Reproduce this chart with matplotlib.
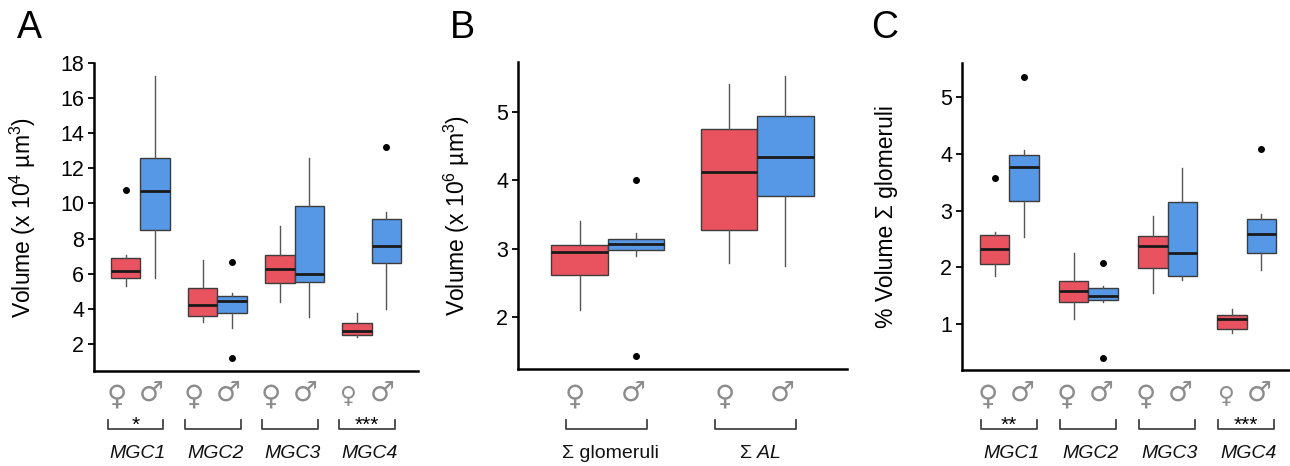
import matplotlib
matplotlib.use("Agg")
import matplotlib.pyplot as plt
from matplotlib.transforms import blended_transform_factory

plt.rcParams['font.family'] = ['Liberation Sans', 'DejaVu Sans']
plt.rcParams['mathtext.fontset'] = 'custom'
plt.rcParams['mathtext.rm'] = 'Liberation Sans'
plt.rcParams['mathtext.it'] = 'Liberation Sans:italic'

# ---------------- data (box stats: whislo, q1, med, q3, whishi, outliers) ---------------
groups_A = ["MGC1", "MGC2", "MGC3", "MGC4"]
female_A = [[5.3, 5.78, 6.18, 6.88, 7.07], [3.27, 3.59, 4.22, 5.17, 6.78],
            [4.37, 5.49, 6.25, 7.05, 8.74], [2.37, 2.51, 2.73, 3.17, 3.78]]
female_A_out = [[10.76], [], [], []]
male_A = [[5.78, 8.49, 10.72, 12.58, 17.24], [2.89, 3.74, 4.45, 4.73, 4.88],
          [3.51, 5.51, 5.97, 9.88, 12.58], [3.97, 6.59, 7.58, 9.12, 9.52]]
male_A_out = [[], [6.69, 1.21], [], [13.19]]
stars_A = ["*", "", "", "***"]

groups_B = ["Σ glomeruli", "Σ $\\mathit{AL}$"]
female_B = [[2.10, 2.61, 2.95, 3.05, 3.40], [2.78, 3.27, 4.13, 4.75, 5.42]]
female_B_out = [[], []]
male_B = [[2.89, 2.98, 3.07, 3.14, 3.23], [2.75, 3.77, 4.35, 4.95, 5.54]]
male_B_out = [[4.0, 1.42], []]

groups_C = ["MGC1", "MGC2", "MGC3", "MGC4"]
female_C = [[1.85, 2.05, 2.32, 2.57, 2.63], [1.08, 1.39, 1.58, 1.76, 2.25],
            [1.55, 1.98, 2.38, 2.55, 2.91], [0.84, 0.91, 1.09, 1.16, 1.26]]
female_C_out = [[3.57], [], [], []]
male_C = [[2.54, 3.16, 3.76, 3.97, 4.07], [1.39, 1.42, 1.50, 1.64, 1.67],
          [1.78, 1.84, 2.26, 3.15, 3.75], [1.96, 2.26, 2.58, 2.85, 2.94]]
male_C_out = [[5.35], [2.07, 0.41], [], [4.09]]
stars_C = ["**", "", "", "***"]

RED = "#E9525F"
BLUE = "#5697E6"
W, H = 1290, 466

fig = plt.figure(figsize=(W / 100, H / 100), dpi=100)


def px_axes(l, r, t, b):
    return fig.add_axes([l / W, (H - b) / H, (r - l) / W, (b - t) / H])


def stats(vals, outs):
    return dict(whislo=vals[0], q1=vals[1], med=vals[2], q3=vals[3], whishi=vals[4], fliers=outs)


def draw_panel(ax, fem, fem_o, mal, mal_o, bw):
    n = len(fem)
    centers = list(range(1, n + 1))
    for data, outs, off, col in [(fem, fem_o, -bw / 2, RED), (mal, mal_o, bw / 2, BLUE)]:
        st = [stats(v, o) for v, o in zip(data, outs)]
        ax.bxp(st, positions=[c + off for c in centers], widths=bw, showcaps=False,
               patch_artist=True, manage_ticks=False,
               boxprops=dict(facecolor=col, edgecolor="#3c3c3c", linewidth=1.0),
               medianprops=dict(color="#1a1a1a", linewidth=2.0),
               whiskerprops=dict(color="#555555", linewidth=1.0),
               flierprops=dict(marker="o", markerfacecolor="black", markeredgecolor="black",
                               markersize=4))
    for s in ["top", "right"]:
        ax.spines[s].set_visible(False)
    for s in ["left", "bottom"]:
        ax.spines[s].set_linewidth(1.8)
        ax.spines[s].set_color("black")
    ax.set_xticks([])
    ax.tick_params(axis="y", labelsize=15.5, length=4, width=1.3, pad=3, colors="black")
    return centers


def annotate(ax, centers, labels, stars, fo, mo, bl, br, sym_small):
    tr = blended_transform_factory(ax.transData, fig.transFigure)
    yf = lambda p: 1 - p / H
    for i, c in enumerate(centers):
        fs = 20
        if sym_small and i == len(centers) - 1:
            fs = 16.5
        ax.text(c + fo, yf(396), "♀", transform=tr, ha="center", va="center", fontsize=fs,
                color="#8c8c8c", family="DejaVu Sans")
        ax.text(c + mo, yf(393), "♂", transform=tr, ha="center", va="center", fontsize=20,
                color="#8c8c8c", family="DejaVu Sans")
        ax.plot([c + bl, c + bl, c + br, c + br], [yf(420), yf(429), yf(429), yf(420)],
                transform=tr, color="#444444", lw=1.3, clip_on=False)
        if stars and stars[i]:
            ax.text(c + (bl + br) / 2, yf(425), stars[i], transform=tr, ha="center",
                    va="center", fontsize=15, color="black")
        ax.text(c + (bl + br) / 2 + 0.03, yf(453), labels[i], transform=tr, ha="center",
                va="center", fontsize=14, style="italic" if labels[i].startswith("MGC") else "normal",
                color="#111111")


# Panel A
axA = px_axes(94, 418, 63, 371)
cA = draw_panel(axA, female_A, female_A_out, male_A, male_A_out, 0.38)
axA.set_xlim(0.4, 4.6)
axA.set_ylim(0.46, 18.0)
axA.set_yticks([2, 4, 6, 8, 10, 12, 14, 16, 18])
axA.set_ylabel("Volume (x 10$^4$ µm$^3$)", fontsize=16.5)
axA.yaxis.set_label_coords(-0.172, 0.5)
annotate(axA, cA, groups_A, stars_A, -0.31, 0.14, -0.42, 0.30, True)

# Panel B
axB = px_axes(518, 847, 62, 369)
cB = draw_panel(axB, female_B, female_B_out, male_B, male_B_out, 0.377)
axB.set_xlim(0.4, 2.6)
axB.set_ylim(1.23, 5.74)
axB.set_yticks([2, 3, 4, 5])
axB.set_ylabel("Volume (x 10$^6$ µm$^3$)", fontsize=16.5)
axB.yaxis.set_label_coords(-0.14, 0.5)
annotate(axB, cB, groups_B, None, -0.22, 0.17, -0.28, 0.26, False)

# Panel C
axC = px_axes(962, 1294, 63, 370)
cC = draw_panel(axC, female_C, female_C_out, male_C, male_C_out, 0.375)
axC.set_xlim(0.4, 4.6)
axC.set_ylim(0.19, 5.6)
axC.set_yticks([1, 2, 3, 4, 5])
axC.set_ylabel("% Volume Σ glomeruli", fontsize=16.5)
axC.yaxis.set_label_coords(-0.193, 0.5)
annotate(axC, cC, groups_C, stars_C, -0.27, 0.16, -0.36, 0.35, True)

for lab, x in [("A", 29), ("B", 462), ("C", 885)]:
    fig.text(x / W, 1 - 28 / H, lab, fontsize=27, ha="center", va="center")

fig.savefig("out.png", dpi=100)
